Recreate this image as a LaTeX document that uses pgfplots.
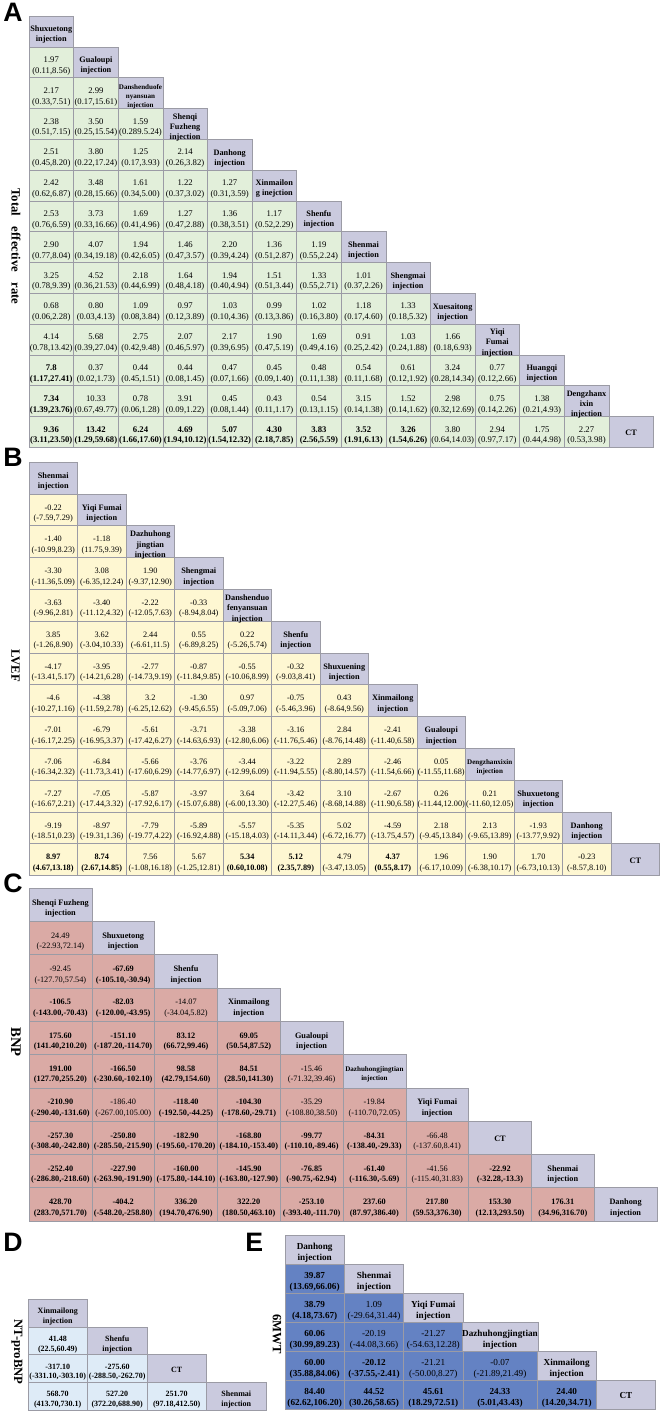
\documentclass[border=0pt]{standalone}
\usepackage{fontspec}
\setmainfont{Liberation Serif}
\newfontfamily\lsans{Liberation Sans}
\usepackage{array}
\usepackage{pgfplots}
\pgfplotsset{compat=1.18}
\definecolor{gA}{RGB}{226,239,218}
\definecolor{yB}{RGB}{254,247,210}
\definecolor{rC}{RGB}{218,170,165}
\definecolor{bD}{RGB}{222,235,247}
\definecolor{bE}{RGB}{100,130,195}
\definecolor{dg}{RGB}{202,202,222}
\definecolor{bd}{RGB}{155,155,165}
\protected\def\nl{\\}
\protected\def\N#1#2{\raisebox{-2.6pt}[\height][\depth]{\begin{tabular}{@{}c@{}}#1\\#2\end{tabular}}}
\protected\def\B#1#2{\raisebox{-2.6pt}[\height][\depth]{\begin{tabular}{@{}>{\bfseries}c@{}}#1\\#2\end{tabular}}}
\protected\def\D#1{\raisebox{-2.6pt}[\height][\depth]{\begin{tabular}{@{}>{\bfseries}c@{}}#1\end{tabular}}}
\protected\def\Dc#1{\raisebox{-1pt}[\height][\depth]{\bfseries #1}}
\protected\def\Ds#1{{\fontsize{5.3}{6.6}\selectfont\D{#1}}}
\newcommand\fA{\fontsize{6.5}{8.1}\selectfont}
\newcommand\fAd{\fontsize{6.2}{7.6}\selectfont}
\newcommand\fB{\fontsize{6.2}{7.8}\selectfont}
\newcommand\fC{\fontsize{6.2}{7.8}\selectfont}
\newcommand\fD{\fontsize{6}{7.4}\selectfont}
\newcommand\fE{\fontsize{6.9}{8.4}\selectfont}
\tikzset{cb/.style={draw=bd, line width=0.45pt, text=black, inner sep=0pt, outer sep=0pt, anchor=center}}
\pgfplotsset{
  tbl/.style={hide axis, scale only axis, clip=false, y dir=reverse, xmin=0.5, ymin=0.5, anchor=north west},
  cellsbase/.style={draw=none, mark=none, point meta=explicit symbolic, nodes near coords, nodes near coords align={center}}
}
\begin{document}
\begin{tikzpicture}
\path[use as bounding box] (0,0) rectangle (496.5pt,-1059.75pt);
% ---------------- Panel A ----------------
\begin{axis}[tbl, xmax=14.5, ymax=14.5, width=468.3pt, height=323.4pt, at={(21.75pt,-12pt)}]
\addplot[cellsbase, every node near coord/.append style={cb, fill=gA, minimum width=33.45pt, minimum height=23.1pt, font=\fA}] coordinates {
(1,2) [{\N{1.97}{(0.11,8.56)}}]
(1,3) [{\N{2.17}{(0.33,7.51)}}] (2,3) [{\N{2.99}{(0.17,15.61)}}]
(1,4) [{\N{2.38}{(0.51,7.15)}}] (2,4) [{\N{3.50}{(0.25,15.54)}}] (3,4) [{\N{1.59}{(0.289.5.24)}}]
(1,5) [{\N{2.51}{(0.45,8.20)}}] (2,5) [{\N{3.80}{(0.22,17.24)}}] (3,5) [{\N{1.25}{(0.17,3.93)}}] (4,5) [{\N{2.14}{(0.26,3.82)}}]
(1,6) [{\N{2.42}{(0.62,6.87)}}] (2,6) [{\N{3.48}{(0.28,15.66)}}] (3,6) [{\N{1.61}{(0.34,5.00)}}] (4,6) [{\N{1.22}{(0.37,3.02)}}] (5,6) [{\N{1.27}{(0.31,3.59)}}]
(1,7) [{\N{2.53}{(0.76,6.59)}}] (2,7) [{\N{3.73}{(0.33,16.66)}}] (3,7) [{\N{1.69}{(0.41,4.96)}}] (4,7) [{\N{1.27}{(0.47,2.88)}}] (5,7) [{\N{1.36}{(0.38,3.51)}}] (6,7) [{\N{1.17}{(0.52,2.29)}}]
(1,8) [{\N{2.90}{(0.77,8.04)}}] (2,8) [{\N{4.07}{(0.34,19.18)}}] (3,8) [{\N{1.94}{(0.42,6.05)}}] (4,8) [{\N{1.46}{(0.47,3.57)}}] (5,8) [{\N{2.20}{(0.39,4.24)}}] (6,8) [{\N{1.36}{(0.51,2.87)}}] (7,8) [{\N{1.19}{(0.55,2.24)}}]
(1,9) [{\N{3.25}{(0.78,9.39)}}] (2,9) [{\N{4.52}{(0.36,21.53)}}] (3,9) [{\N{2.18}{(0.44,6.99)}}] (4,9) [{\N{1.64}{(0.48,4.18)}}] (5,9) [{\N{1.94}{(0.40,4.94)}}] (6,9) [{\N{1.51}{(0.51,3.44)}}] (7,9) [{\N{1.33}{(0.55,2.71)}}] (8,9) [{\N{1.01}{(0.37,2.26)}}]
(1,10) [{\N{0.68}{(0.06,2.28)}}] (2,10) [{\N{0.80}{(0.03,4.13)}}] (3,10) [{\N{1.09}{(0.08,3.84)}}] (4,10) [{\N{0.97}{(0.12,3.89)}}] (5,10) [{\N{1.03}{(0.10,4.36)}}] (6,10) [{\N{0.99}{(0.13,3.86)}}] (7,10) [{\N{1.02}{(0.16,3.80)}}] (8,10) [{\N{1.18}{(0.17,4.60)}}] (9,10) [{\N{1.33}{(0.18,5.32)}}]
(1,11) [{\N{4.14}{(0.78,13.42)}}] (2,11) [{\N{5.68}{(0.39,27.04)}}] (3,11) [{\N{2.75}{(0.42,9.48)}}] (4,11) [{\N{2.07}{(0.46,5.97)}}] (5,11) [{\N{2.17}{(0.39,6.95)}}] (6,11) [{\N{1.90}{(0.47,5.19)}}] (7,11) [{\N{1.69}{(0.49,4.16)}}] (8,11) [{\N{0.91}{(0.25,2.42)}}] (9,11) [{\N{1.03}{(0.24,1.88)}}] (10,11) [{\N{1.66}{(0.18,6.93)}}]
(1,12) [{\B{7.8}{(1.17,27.41)}}] (2,12) [{\N{0.37}{(0.02,1.73)}}] (3,12) [{\N{0.44}{(0.45,1.51)}}] (4,12) [{\N{0.44}{(0.08,1.45)}}] (5,12) [{\N{0.47}{(0.07,1.66)}}] (6,12) [{\N{0.45}{(0.09,1.40)}}] (7,12) [{\N{0.48}{(0.11,1.38)}}] (8,12) [{\N{0.54}{(0.11,1.68)}}] (9,12) [{\N{0.61}{(0.12,1.92)}}] (10,12) [{\N{3.24}{(0.28,14.34)}}] (11,12) [{\N{0.77}{(0.12,2.66)}}]
(1,13) [{\B{7.34}{(1.39,23.76)}}] (2,13) [{\N{10.33}{(0.67,49.77)}}] (3,13) [{\N{0.78}{(0.06,1.28)}}] (4,13) [{\N{3.91}{(0.09,1.22)}}] (5,13) [{\N{0.45}{(0.08,1.44)}}] (6,13) [{\N{0.43}{(0.11,1.17)}}] (7,13) [{\N{0.54}{(0.13,1.15)}}] (8,13) [{\N{3.15}{(0.14,1.38)}}] (9,13) [{\N{1.52}{(0.14,1.62)}}] (10,13) [{\N{2.98}{(0.32,12.69)}}] (11,13) [{\N{0.75}{(0.14,2.26)}}] (12,13) [{\N{1.38}{(0.21,4.93)}}]
(1,14) [{\B{9.36}{(3.11,23.50)}}] (2,14) [{\B{13.42}{(1.29,59.68)}}] (3,14) [{\B{6.24}{(1.66,17.60)}}] (4,14) [{\B{4.69}{(1.94,10.12)}}] (5,14) [{\B{5.07}{(1.54,12.32)}}] (6,14) [{\B{4.30}{(2.18,7.85)}}] (7,14) [{\B{3.83}{(2.56,5.59)}}] (8,14) [{\B{3.52}{(1.91,6.13)}}] (9,14) [{\B{3.26}{(1.54,6.26)}}] (10,14) [{\N{3.80}{(0.64,14.03)}}] (11,14) [{\N{2.94}{(0.97,7.17)}}] (12,14) [{\N{1.75}{(0.44,4.98)}}] (13,14) [{\N{2.27}{(0.53,3.98)}}]
};
\addplot[cellsbase, every node near coord/.append style={cb, fill=dg, minimum width=33.45pt, minimum height=23.1pt, font=\fAd}] coordinates {
(1,1) [{\D{Shuxuetong\nl injection}}] (2,2) [{\D{Gualoupi\nl injection}}] (3,3) [{\Ds{Danshenduofe\nl nyansuan\nl injection}}] (4,4) [{\D{Shenqi\nl Fuzheng\nl injection}}] (5,5) [{\D{Danhong\nl injection}}] (6,6) [{\D{Xinmailon\nl g inejction}}] (7,7) [{\D{Shenfu\nl injection}}] (8,8) [{\D{Shenmai\nl injection}}] (9,9) [{\D{Shengmai\nl injection}}] (10,10) [{\D{Xuesaitong\nl injection}}] (11,11) [{\D{Yiqi\nl Fumai\nl injection}}] (12,12) [{\D{Huangqi\nl injection}}] (13,13) [{\D{Dengzhanx\nl ixin\nl injection}}] (14,14) [{\Dc{CT}}]
};
\end{axis}
% ---------------- Panel B ----------------
\begin{axis}[tbl, xmax=13.5, ymax=13.5, width=472.9pt, height=310.05pt, at={(21.75pt,-346.5pt)}]
\addplot[cellsbase, every node near coord/.append style={cb, fill=yB, minimum width=36.375pt, minimum height=23.85pt, font=\fB}] coordinates {
(1,2) [{\N{-0.22}{(-7.59,7.29)}}]
(1,3) [{\N{-1.40}{(-10.99,8.23)}}] (2,3) [{\N{-1.18}{(11.75,9.39)}}]
(1,4) [{\N{-3.30}{(-11.36,5.09)}}] (2,4) [{\N{3.08}{(-6.35,12.24)}}] (3,4) [{\N{1.90}{(-9.37,12.90)}}]
(1,5) [{\N{-3.63}{(-9.96,2.81)}}] (2,5) [{\N{-3.40}{(-11.12,4.32)}}] (3,5) [{\N{-2.22}{(-12.05,7.63)}}] (4,5) [{\N{-0.33}{(-8.94,8.04)}}]
(1,6) [{\N{3.85}{(-1.26,8.90)}}] (2,6) [{\N{3.62}{(-3.04,10.33)}}] (3,6) [{\N{2.44}{(-6.61,11.5)}}] (4,6) [{\N{0.55}{(-6.89,8.25)}}] (5,6) [{\N{0.22}{(-5.26,5.74)}}]
(1,7) [{\N{-4.17}{(-13.41,5.17)}}] (2,7) [{\N{-3.95}{(-14.21,6.28)}}] (3,7) [{\N{-2.77}{(-14.73,9.19)}}] (4,7) [{\N{-0.87}{(-11.84,9.85)}}] (5,7) [{\N{-0.55}{(-10.06,8.99)}}] (6,7) [{\N{-0.32}{(-9.03,8.41)}}]
(1,8) [{\N{-4.6}{(-10.27,1.16)}}] (2,8) [{\N{-4.38}{(-11.59,2.78)}}] (3,8) [{\N{3.2}{(-6.25,12.62)}}] (4,8) [{\N{-1.30}{(-9.45,6.55)}}] (5,8) [{\N{0.97}{(-5.09,7.06)}}] (6,8) [{\N{-0.75}{(-5.46,3.96)}}] (7,8) [{\N{0.43}{(-8.64,9.56)}}]
(1,9) [{\N{-7.01}{(-16.17,2.25)}}] (2,9) [{\N{-6.79}{(-16.95,3.37)}}] (3,9) [{\N{-5.61}{(-17.42,6.27)}}] (4,9) [{\N{-3.71}{(-14.63,6.93)}}] (5,9) [{\N{-3.38}{(-12.80,6.06)}}] (6,9) [{\N{-3.16}{(-11.76,5.46)}}] (7,9) [{\N{2.84}{(-8.76,14.48)}}] (8,9) [{\N{-2.41}{(-11.40,6.58)}}]
(1,10) [{\N{-7.06}{(-16.34,2.32)}}] (2,10) [{\N{-6.84}{(-11.73,3.41)}}] (3,10) [{\N{-5.66}{(-17.60,6.29)}}] (4,10) [{\N{-3.76}{(-14.77,6.97)}}] (5,10) [{\N{-3.44}{(-12.99,6.09)}}] (6,10) [{\N{-3.22}{(-11.94,5.55)}}] (7,10) [{\N{2.89}{(-8.80,14.57)}}] (8,10) [{\N{-2.46}{(-11.54,6.66)}}] (9,10) [{\N{0.05}{(-11.55,11.68)}}]
(1,11) [{\N{-7.27}{(-16.67,2.21)}}] (2,11) [{\N{-7.05}{(-17.44,3.32)}}] (3,11) [{\N{-5.87}{(-17.92,6.17)}}] (4,11) [{\N{-3.97}{(-15.07,6.88)}}] (5,11) [{\N{3.64}{(-6.00,13.30)}}] (6,11) [{\N{-3.42}{(-12.27,5.46)}}] (7,11) [{\N{3.10}{(-8.68,14.88)}}] (8,11) [{\N{-2.67}{(-11.90,6.58)}}] (9,11) [{\N{0.26}{(-11.44,12.00)}}] (10,11) [{\N{0.21}{(-11.60,12.05)}}]
(1,12) [{\N{-9.19}{(-18.51,0.23)}}] (2,12) [{\N{-8.97}{(-19.31,1.36)}}] (3,12) [{\N{-7.79}{(-19.77,4.22)}}] (4,12) [{\N{-5.89}{(-16.92,4.88)}}] (5,12) [{\N{-5.57}{(-15.18,4.03)}}] (6,12) [{\N{-5.35}{(-14.11,3.44)}}] (7,12) [{\N{5.02}{(-6.72,16.77)}}] (8,12) [{\N{-4.59}{(-13.75,4.57)}}] (9,12) [{\N{2.18}{(-9.45,13.84)}}] (10,12) [{\N{2.13}{(-9.65,13.89)}}] (11,12) [{\N{-1.93}{(-13.77,9.92)}}]
(1,13) [{\B{8.97}{(4.67,13.18)}}] (2,13) [{\B{8.74}{(2.67,14.85)}}] (3,13) [{\N{7.56}{(-1.08,16.18)}}] (4,13) [{\N{5.67}{(-1.25,12.81)}}] (5,13) [{\B{5.34}{(0.60,10.08)}}] (6,13) [{\B{5.12}{(2.35,7.89)}}] (7,13) [{\N{4.79}{(-3.47,13.05)}}] (8,13) [{\B{4.37}{(0.55,8.17)}}] (9,13) [{\N{1.96}{(-6.17,10.09)}}] (10,13) [{\N{1.90}{(-6.38,10.17)}}] (11,13) [{\N{1.70}{(-6.73,10.13)}}] (12,13) [{\N{-0.23}{(-8.57,8.10)}}]
};
\addplot[cellsbase, every node near coord/.append style={cb, fill=dg, minimum width=36.375pt, minimum height=23.85pt, font=\fB}] coordinates {
(1,1) [{\D{Shenmai\nl injection}}] (2,2) [{\D{Yiqi Fumai\nl injection}}] (3,3) [{\D{Dazhuhong\nl jingtian\nl injection}}] (4,4) [{\D{Shengmai\nl injection}}] (5,5) [{\D{Danshenduo\nl fenyansuan\nl injection}}] (6,6) [{\D{Shenfu\nl injection}}] (7,7) [{\D{Shuxuening\nl injection}}] (8,8) [{\D{Xinmailong\nl injection}}] (9,9) [{\D{Gualoupi\nl injection}}] (10,10) [{\Ds{Dengzhanxixin\nl injection}}] (11,11) [{\D{Shuxuetong\nl injection}}] (12,12) [{\D{Danhong\nl injection}}] (13,13) [{\Dc{CT}}]
};
\end{axis}
% ---------------- Panel C ----------------
\begin{axis}[tbl, xmax=10.5, ymax=10.5, width=471pt, height=249.75pt, at={(21.75pt,-666pt)}]
\addplot[cellsbase, every node near coord/.append style={cb, fill=rC, minimum width=47.1pt, minimum height=24.975pt, font=\fC}] coordinates {
(1,2) [{\N{24.49}{(-22.93,72.14)}}]
(1,3) [{\N{-92.45}{(-127.70,57.54)}}] (2,3) [{\B{-67.69}{(-105.10,-30.94)}}]
(1,4) [{\B{-106.5}{(-143.00,-70.43)}}] (2,4) [{\B{-82.03}{(-120.00,-43.95)}}] (3,4) [{\N{-14.07}{(-34.04,5.82)}}]
(1,5) [{\B{175.60}{(141.40,210.20)}}] (2,5) [{\B{-151.10}{(-187.20,-114.70)}}] (3,5) [{\B{83.12}{(66.72,99.46)}}] (4,5) [{\B{69.05}{(50.54,87.52)}}]
(1,6) [{\B{191.00}{(127.70,255.20)}}] (2,6) [{\B{-166.50}{(-230.60,-102.10)}}] (3,6) [{\B{98.58}{(42.79,154.60)}}] (4,6) [{\B{84.51}{(28.50,141.30)}}] (5,6) [{\N{-15.46}{(-71.32,39.46)}}]
(1,7) [{\B{-210.90}{(-290.40,-131.60)}}] (2,7) [{\N{-186.40}{(-267.00,105.00)}}] (3,7) [{\B{-118.40}{(-192.50,-44.25)}}] (4,7) [{\B{-104.30}{(-178.60,-29.71)}}] (5,7) [{\N{-35.29}{(-108.80,38.50)}}] (6,7) [{\N{-19.84}{(-110.70,72.05)}}]
(1,8) [{\B{-257.30}{(-308.40,-242.80)}}] (2,8) [{\B{-250.80}{(-285.50,-215.90)}}] (3,8) [{\B{-182.90}{(-195.60,-170.20)}}] (4,8) [{\B{-168.80}{(-184.10,-153.40)}}] (5,8) [{\B{-99.77}{(-110.10,-89.46)}}] (6,8) [{\B{-84.31}{(-138.40,-29.33)}}] (7,8) [{\N{-66.48}{(-137.60,8.41)}}]
(1,9) [{\B{-252.40}{(-286.80,-218.60)}}] (2,9) [{\B{-227.90}{(-263.90,-191.90)}}] (3,9) [{\B{-160.00}{(-175.80,-144.10)}}] (4,9) [{\B{-145.90}{(-163.80,-127.90)}}] (5,9) [{\B{-76.85}{(-90.75,-62.94)}}] (6,9) [{\B{-61.40}{(-116.30,-5.69)}}] (7,9) [{\N{-41.56}{(-115.40,31.83)}}] (8,9) [{\B{-22.92}{(-32.28,-13.3)}}]
(1,10) [{\B{428.70}{(283.70,571.70)}}] (2,10) [{\B{-404.2}{(-548.20,-258.80)}}] (3,10) [{\B{336.20}{(194.70,476.90)}}] (4,10) [{\B{322.20}{(180.50,463.10)}}] (5,10) [{\B{-253.10}{(-393.40,-111.70)}}] (6,10) [{\B{237.60}{(87.97,386.40)}}] (7,10) [{\B{217.80}{(59.53,376.30)}}] (8,10) [{\B{153.30}{(12.13,293.50)}}] (9,10) [{\B{176.31}{(34.96,316.70)}}]
};
\addplot[cellsbase, every node near coord/.append style={cb, fill=dg, minimum width=47.1pt, minimum height=24.975pt, font=\fC}] coordinates {
(1,1) [{\D{Shenqi Fuzheng\nl injection}}] (2,2) [{\D{Shuxuetong\nl injection}}] (3,3) [{\D{Shenfu\nl injection}}] (4,4) [{\D{Xinmailong\nl injection}}] (5,5) [{\D{Gualoupi\nl injection}}] (6,6) [{\Ds{Dazhuhongjingtian\nl injection}}] (7,7) [{\D{Yiqi Fumai\nl injection}}] (8,8) [{\Dc{CT}}] (9,9) [{\D{Shenmai\nl injection}}] (10,10) [{\D{Danhong\nl injection}}]
};
\end{axis}
% ---------------- Panel D ----------------
\begin{axis}[tbl, xmax=4.5, ymax=4.5, width=178.5pt, height=83.4pt, at={(21pt,-974.25pt)}]
\addplot[cellsbase, every node near coord/.append style={cb, fill=bD, minimum width=44.625pt, minimum height=20.85pt, font=\fD}] coordinates {
(1,2) [{\B{41.48}{(22.5,60.49)}}]
(1,3) [{\B{-317.10}{(-331.10,-303.10)}}] (2,3) [{\B{-275.60}{(-288.50,-262.70)}}]
(1,4) [{\B{568.70}{(413.70,730.1)}}] (2,4) [{\B{527.20}{(372.20,688.90)}}] (3,4) [{\B{251.70}{(97.18,412.50)}}]
};
\addplot[cellsbase, every node near coord/.append style={cb, fill=dg, minimum width=44.625pt, minimum height=20.85pt, font=\fD}] coordinates {
(1,1) [{\D{Xinmailong\nl injection}}] (2,2) [{\D{Shenfu\nl injection}}] (3,3) [{\Dc{CT}}] (4,4) [{\D{Shenmai\nl injection}}]
};
\end{axis}
% ---------------- Panel E ----------------
\begin{axis}[tbl, xmax=6.75, ymax=6.5, width=277.97pt, height=130.5pt, at={(213.75pt,-926.25pt)}]
\addplot[cellsbase, every node near coord/.append style={cb, fill=bE, minimum width=44.475pt, minimum height=21.75pt, font=\fE}] coordinates {
(1,2) [{\B{39.87}{(13.69,66.06)}}]
(1,3) [{\B{38.79}{(4.18,73.67)}}] (2,3) [{\N{1.09}{(-29.64,31.44)}}]
(1,4) [{\B{60.06}{(30.99,89.23)}}] (2,4) [{\N{-20.19}{(-44.08,3.66)}}] (3,4) [{\N{-21.27}{(-54.63,12.28)}}]
(1,5) [{\B{60.00}{(35.88,84.06)}}] (2,5) [{\B{-20.12}{(-37.55,-2.41)}}] (3,5) [{\N{-21.21}{(-50.00,8.27)}}]
(1,6) [{\B{84.40}{(62.62,106.20)}}] (2,6) [{\B{44.52}{(30.26,58.65)}}] (3,6) [{\B{45.61}{(18.29,72.51)}}] (5.25,6) [{\B{24.40}{(14.20,34.71)}}]
};
\addplot[cellsbase, every node near coord/.append style={cb, fill=bE, minimum width=55.6pt, minimum height=21.75pt, font=\fE}] coordinates {
(4.125,5) [{\N{-0.07}{(-21.89,21.49)}}] (4.125,6) [{\B{24.33}{(5.01,43.43)}}]
};
\addplot[cellsbase, every node near coord/.append style={cb, fill=dg, minimum width=44.475pt, minimum height=21.75pt, font=\fE}] coordinates {
(1,1) [{\D{Danhong\nl injection}}] (2,2) [{\D{Shenmai\nl injection}}] (3,3) [{\D{Yiqi Fumai\nl injection}}] (5.25,5) [{\D{Xinmailong\nl injection}}] (6.25,6) [{\Dc{CT}}]
};
\addplot[cellsbase, every node near coord/.append style={cb, fill=dg, minimum width=55.6pt, minimum height=21.75pt, font=\fE}] coordinates {
(4.125,4) [{\D{Dazhuhongjingtian\nl injection}}]
};
\end{axis}
% ---------------- panel letters and side labels ----------------
\begin{scope}[every node/.style={inner sep=0pt, anchor=north west, font=\lsans\bfseries\fontsize{20}{20}\selectfont}]
\node at (2.25pt,-2.5pt) {A};
\node at (2.25pt,-336pt) {B};
\node at (2.25pt,-655.5pt) {C};
\node at (2.25pt,-925pt) {D};
\node at (183.75pt,-925pt) {E};
\end{scope}
\begin{scope}[every node/.style={inner sep=0pt, rotate=-90, font=\bfseries\fontsize{9.5}{10}\selectfont}]
\node at (12pt,-184.9pt) {Total\hspace{8pt}effective\hspace{8pt}rate};
\node at (11.6pt,-499.1pt) {LVEF};
\node[font=\bfseries\fontsize{11}{12}\selectfont] at (12pt,-781.5pt) {BNP};
\node at (12.75pt,-1014pt) {NT-proBNP};
\node at (207.75pt,-1000.5pt) {6MWT};
\end{scope}
\end{tikzpicture}
\end{document}
